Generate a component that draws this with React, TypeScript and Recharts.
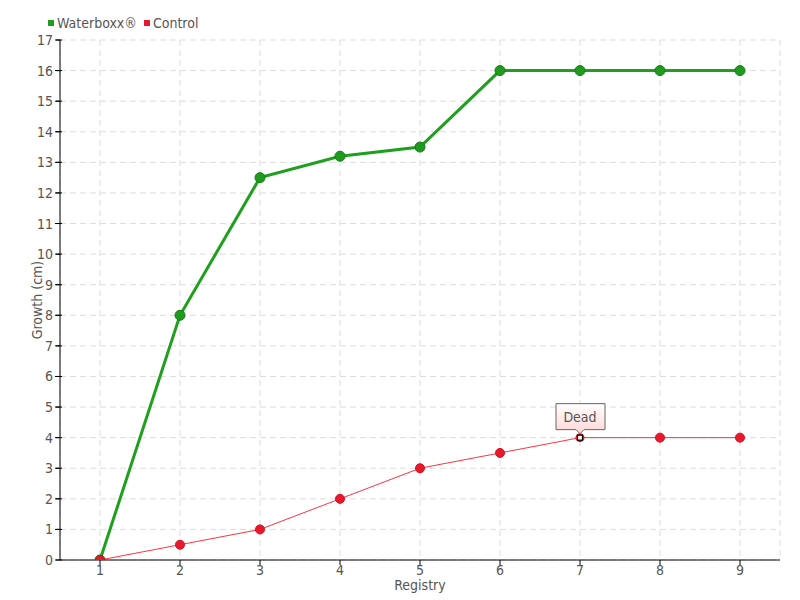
import React from "react";
import { LineChart, Line, XAxis, YAxis, CartesianGrid } from "recharts";

const registry = [1, 2, 3, 4, 5, 6, 7, 8, 9];
const waterboxx = [0, 8, 12.5, 13.2, 13.5, 16, 16, 16, 16];
const control = [0, 0.5, 1, 2, 3, 3.5, 4, 4, 4];
const yTicks = [0, 1, 2, 3, 4, 5, 6, 7, 8, 9, 10, 11, 12, 13, 14, 15, 16, 17];
const deadIndex = 6;
const deadLabel = "Dead";

const data = registry.map((r, i) => ({ r, w: waterboxx[i], c: control[i] }));

const FONT = "'DejaVu Sans Condensed', 'Liberation Sans Narrow', sans-serif";
const TXT = "#555";

const ControlDot = (props: any) => {
  const { cx, cy, index } = props;
  if (cx == null || cy == null) return null;
  if (index === deadIndex) {
    return (
      <g key={`cd${index}`}>
        <circle cx={cx} cy={cy} r={4.5} fill="#e8192c" />
        <rect x={cx - 2.5} y={cy - 2.5} width={5} height={5} fill="#fff" stroke="#000" strokeWidth={1.2} />
        <defs>
          <linearGradient id="deadGrad" x1="0" y1="0" x2="0" y2="1">
            <stop offset="0%" stopColor="#ffffff" />
            <stop offset="100%" stopColor="#ffd6d6" />
          </linearGradient>
        </defs>
        <path
          d={`M${cx - 24},${cy - 34} H${cx + 25} V${cy - 8} H${cx + 4} L${cx},${cy - 4} L${cx - 4},${cy - 8} H${cx - 24} Z`}
          fill="url(#deadGrad)"
          stroke="#666"
          strokeWidth={1}
        />
        <text x={cx} y={cy - 16} textAnchor="middle" fontSize={14} fill={TXT} fontFamily={FONT}>
          {deadLabel}
        </text>
      </g>
    );
  }
  return <circle key={`cd${index}`} cx={cx} cy={cy} r={4.5} fill="#e8192c" stroke="#d01020" strokeWidth={1} />;
};

const YTick = (props: any) => {
  const { x, y, payload } = props;
  return (
    <g>
      <line x1={x + 1} x2={x + 8} y1={y} y2={y} stroke="#000" strokeWidth={1} />
      <text x={x - 1} y={y} dy={5} textAnchor="end" fontSize={14} fill={TXT} fontFamily={FONT}>
        {payload.value}
      </text>
    </g>
  );
};

export default function App() {
  return (
    <div style={{ position: "absolute", left: 0, top: 0, width: 800, height: 600, background: "#fff" }}>
      <div
        style={{
          position: "absolute",
          left: 48,
          top: 15,
          display: "flex",
          gap: 7,
          fontFamily: FONT,
          fontSize: 14,
          color: TXT,
          zIndex: 2,
        }}
      >
        <span style={{ display: "flex", alignItems: "center" }}>
          <span style={{ width: 6, height: 6, background: "#1ea01e", marginRight: 3, display: "inline-block" }} />
          Waterboxx®
        </span>
        <span style={{ display: "flex", alignItems: "center" }}>
          <span style={{ width: 6, height: 6, background: "#e8192c", marginRight: 3, display: "inline-block" }} />
          Control
        </span>
      </div>
      <LineChart width={800} height={600} data={data} margin={{ top: 40, right: 20, bottom: 0, left: 0 }}>
        <CartesianGrid stroke="#ddd" strokeDasharray="6 4" />
        <XAxis
          dataKey="r"
          type="number"
          domain={[0.5, 9.5]}
          allowDataOverflow={true}
          ticks={registry}
          interval={0}
          stroke="#000"
          tickSize={5}
          tickMargin={0}
          tick={{ fill: TXT, fontSize: 14, fontFamily: FONT }}
          label={{ value: "Registry", position: "insideBottom", offset: 10, fill: TXT, fontSize: 14, fontFamily: FONT }}
          height={40}
        />
        <YAxis
          type="number"
          domain={[0, 17]}
          allowDataOverflow={true}
          ticks={yTicks}
          interval={0}
          stroke="#000"
          tickSize={4}
          width={60}
          tick={<YTick />}
          label={{ value: "Growth (cm)", angle: -90, position: "insideLeft", offset: 37, fill: TXT, fontSize: 14, fontFamily: FONT, style: { textAnchor: "middle" } }}
        />
        <Line
          dataKey="w"
          stroke="#1ea01e"
          strokeWidth={3}
          dot={{ r: 5, fill: "#1e9a1e", stroke: "#177a17", strokeWidth: 1 }}
          isAnimationActive={false}
        />
        <Line
          dataKey="c"
          stroke="#ff3344"
          strokeWidth={1}
          dot={ControlDot}
          isAnimationActive={false}
        />
      </LineChart>
    </div>
  );
}
